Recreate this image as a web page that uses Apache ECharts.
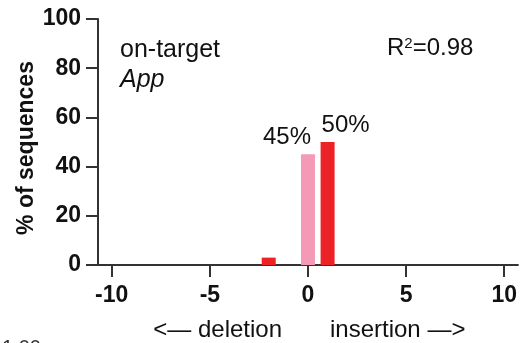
<!DOCTYPE html>
<html>
<head>
<meta charset="utf-8">
<script src="https://cdn.jsdelivr.net/npm/echarts@6/dist/echarts.min.js"></script>
<style>html,body{margin:0;padding:0;background:#fff;}#c{width:520px;height:343px;}</style>
</head>
<body>
<div id="c"></div>
<script>
// indel size (bp) and % of sequences
const indelSizes = [-2, 0, 1];
const percentValues = [3, 45, 50];
const barColors = ['#EC2227', '#F49AB6', '#EC2227'];
const barLabels = ['', '45%', '50%'];
const xTickValues = [-10, -5, 0, 5, 10];
const yTickValues = [0, 20, 40, 60, 80, 100];

const FONT = '"Liberation Sans", Arial, sans-serif';
const labelOffsets = [[0, 0], [-21, 0], [18, 0]];

const chart = echarts.init(document.getElementById('c'), null, {renderer: 'canvas'});
const data = indelSizes.map((x, i) => ({
  value: [x, percentValues[i]],
  itemStyle: {color: barColors[i]},
  label: {
    show: barLabels[i] !== '',
    formatter: barLabels[i],
    position: 'top',
    distance: 5,
    offset: labelOffsets[i],
    fontSize: 24,
    fontFamily: FONT,
    color: '#111'
  }
}));

chart.setOption({
  animation: false,
  backgroundColor: '#fff',
  grid: {left: 98, right: 0, top: 19, bottom: 78, containLabel: false},
  xAxis: {
    type: 'value',
    min: -10.7,
    max: 10.7,
    axisLine: {show: true, lineStyle: {color: '#333', width: 2}},
    axisTick: {show: true, length: 12, customValues: xTickValues, lineStyle: {color: '#333', width: 2}},
    axisLabel: {customValues: xTickValues, margin: 19, fontSize: 23, fontWeight: 'bold', fontFamily: FONT, color: '#111'},
    splitLine: {show: false}
  },
  yAxis: {
    type: 'value',
    min: 0,
    max: 100,
    interval: 20,
    axisLine: {show: true, onZero: false, lineStyle: {color: '#333', width: 2}},
    axisTick: {show: true, length: 12, lineStyle: {color: '#333', width: 2}},
    axisLabel: {margin: 17, fontSize: 23, fontWeight: 'bold', fontFamily: FONT, color: '#111'},
    splitLine: {show: false}
  },
  series: [{
    type: 'bar',
    barWidth: 14,
    data: data
  }],
  graphic: [
    {type: 'text', x: 27, y: 148, rotation: Math.PI / 2,
     style: {text: '% of sequences', font: 'bold 23px ' + FONT, fill: '#111', textAlign: 'center', textVerticalAlign: 'middle'}},
    {type: 'text', x: 120, y: 50,
     style: {text: 'on-target', font: '25px ' + FONT, fill: '#111', textAlign: 'left', textVerticalAlign: 'middle'}},
    {type: 'text', x: 120, y: 80,
     style: {text: 'App', font: 'italic 25px ' + FONT, fill: '#111', textAlign: 'left', textVerticalAlign: 'middle'}},
    {type: 'text', x: 387, y: 48,
     style: {
       text: '{a|R}{s|2}{a|=0.98}',
       textAlign: 'left', textVerticalAlign: 'middle',
       rich: {
         a: {fontSize: 24, fontFamily: FONT, fill: '#111', color: '#111', lineHeight: 26},
         s: {fontSize: 15, fontFamily: FONT, fill: '#111', color: '#111', verticalAlign: 'bottom', lineHeight: 15, padding: [0, 0, 10, 0]}
       }
     }},
    {type: 'text', x: 282, y: 330,
     style: {text: '<\u2014 deletion', font: '24px ' + FONT, fill: '#111', textAlign: 'right', textVerticalAlign: 'middle'}},
    {type: 'text', x: 330, y: 330,
     style: {text: 'insertion \u2014>', font: '24px ' + FONT, fill: '#111', textAlign: 'left', textVerticalAlign: 'middle'}},
    {type: 'text', x: 2, y: 338,
     style: {text: '1.00', font: '20px ' + FONT, fill: '#333', textAlign: 'left', textVerticalAlign: 'top'}}
  ]
});
</script>
</body>
</html>
